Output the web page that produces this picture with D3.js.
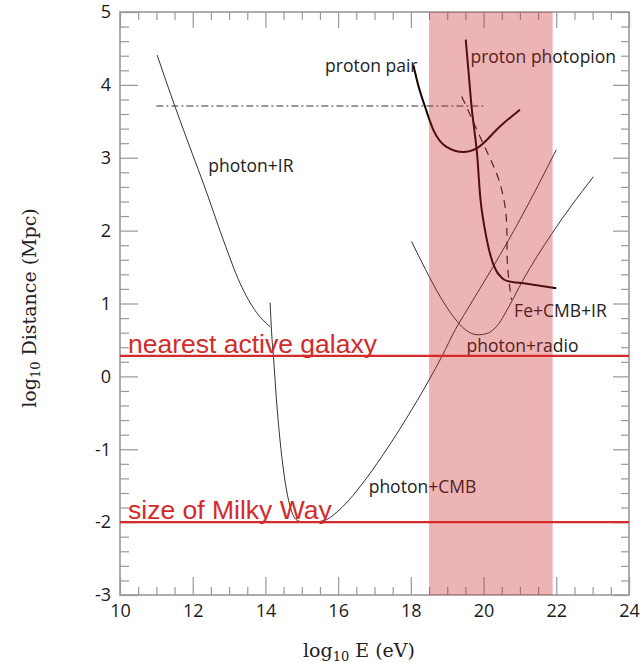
<!DOCTYPE html>
<html>
<head>
<meta charset="utf-8">
<script src="https://cdn.jsdelivr.net/npm/d3@7/dist/d3.min.js"></script>
<style>
  body { margin: 0; background: #fff; }
  .tick text { font-family: "Open Sans", sans-serif; font-size: 18px; fill: #1a1a1a; }
  .tick line, .domain { stroke: #999; }
</style>
</head>
<body>
<svg id="chart" width="644" height="663"></svg>
<script>
// axis ticks
var xMajor = [10, 12, 14, 16, 18, 20, 22, 24];
var yMajor = [-3, -2, -1, 0, 1, 2, 3, 4, 5];

// shaded energy band (log10 eV)
var bandRange = [18.5, 21.9];

// reference distances (log10 Mpc)
var refLines = [
  { name: "nearest active galaxy", d: 0.28 },
  { name: "size of Milky Way", d: -2 }
];

// loss-distance curves, [log10 E, log10 D]
var photonIR = [[11.02, 4.41], [11.5, 3.72], [12.0, 3.04], [12.3, 2.64], [12.85, 1.86],
  [13.3, 1.28], [13.75, 0.88], [14.13, 0.68]];
var photonCMB = [[14.13, 1.01], [14.17, 0.6], [14.22, 0.28], [14.3, -0.3], [14.4, -0.87],
  [14.5, -1.3], [14.58, -1.56], [14.7, -1.82], [14.8, -1.94], [14.95, -1.99], [15.3, -2.0],
  [15.6, -1.98], [16.1, -1.8], [16.7, -1.45], [17.2, -1.1], [17.85, -0.6], [18.5, -0.05],
  [18.86, 0.28], [19.22, 0.64], [19.53, 0.9], [20.27, 1.51], [21.0, 2.15], [22.0, 3.11]];
var photonRadio = [[18.02, 1.85], [18.4, 1.47], [18.8, 1.1], [19.2, 0.8], [19.5, 0.64],
  [19.85, 0.57], [20.1, 0.59], [20.35, 0.68], [20.7, 0.96], [21.06, 1.3], [21.88, 1.96],
  [23.02, 2.74]];
var protonPair = [[18.07, 4.27], [18.2, 4.0], [18.39, 3.7], [18.62, 3.38], [18.98, 3.15],
  [19.44, 3.08], [19.81, 3.13], [20.45, 3.43], [21.0, 3.66]];
var protonPhotopion = [[19.51, 4.62], [19.6, 4.1], [19.67, 3.7], [19.81, 3.11], [19.95, 2.28],
  [20.06, 1.95], [20.18, 1.68], [20.3, 1.5], [20.45, 1.38], [20.64, 1.31], [21.19, 1.27],
  [22.0, 1.21]];
var ironCMBIR = [[19.4, 3.84], [19.9, 3.29], [20.45, 2.65], [20.6, 2.3], [20.64, 2.0],
  [20.65, 1.6], [20.69, 1.35], [20.77, 1.05]];
var horizonLine = [[11.0, 3.71], [20.03, 3.71]];

// curve labels, anchored at [log10 E, log10 D] (start, baseline)
var curveLabels = [
  { text: "proton pair", at: [15.64, 4.18] },
  { text: "proton photopion", at: [19.64, 4.3] },
  { text: "photon+IR", at: [12.43, 2.81] },
  { text: "Fe+CMB+IR", at: [20.84, 0.82] },
  { text: "photon+radio", at: [19.53, 0.34] },
  { text: "photon+CMB", at: [16.84, -1.6] }
];

var svg = d3.select("#chart");
var x = d3.scaleLinear().domain([10, 24]).range([120, 629]);
var y = d3.scaleLinear().domain([-3, 5]).range([595, 12]);

var xMinor = d3.range(10, 24.01, 0.5).filter(function (v) { return v % 2 !== 0; });
var yMinor = d3.range(-3, 5.01, 0.2).map(function (v) { return Math.round(v * 10) / 10; })
  .filter(function (v) { return Math.abs(v - Math.round(v)) > 0.01; });

function addAxis(axis, transform, labels) {
  var g = svg.append("g").attr("transform", transform).call(axis);
  g.selectAll(".domain").remove();
  if (!labels) g.selectAll("text").remove();
  return g;
}

var plainNum = function (d) { return String(d); };

// bottom / top
addAxis(d3.axisBottom(x).tickValues(xMajor).tickSize(-18).tickPadding(9).tickFormat(plainNum),
  "translate(0,595)", true);
addAxis(d3.axisBottom(x).tickValues(xMinor).tickSize(-8), "translate(0,595)", false);
addAxis(d3.axisTop(x).tickValues(xMajor).tickSize(-16), "translate(0,12)", false);
addAxis(d3.axisTop(x).tickValues(xMinor).tickSize(-8), "translate(0,12)", false);
// left / right
addAxis(d3.axisLeft(y).tickValues(yMajor).tickSize(-18).tickPadding(9).tickFormat(plainNum),
  "translate(120,0)", true);
addAxis(d3.axisLeft(y).tickValues(yMinor).tickSize(-9), "translate(120,0)", false);
addAxis(d3.axisRight(y).tickValues(yMajor).tickSize(-16), "translate(629,0)", false);
addAxis(d3.axisRight(y).tickValues(yMinor).tickSize(-8), "translate(629,0)", false);

svg.selectAll(".tick line").attr("stroke", "#999").attr("stroke-width", 1.2);

svg.append("rect")
  .attr("x", x(10)).attr("y", y(5))
  .attr("width", x(24) - x(10)).attr("height", y(-3) - y(5))
  .attr("fill", "none").attr("stroke", "#999").attr("stroke-width", 1.6);

function lineOf(curve) {
  return d3.line()
    .x(function (d) { return x(d[0]); })
    .y(function (d) { return y(d[1]); })
    .curve(curve);
}
var lineX = lineOf(d3.curveMonotoneX);
var lineY = lineOf(d3.curveMonotoneY);

function drawCurve(data, gen, color, width, dash) {
  svg.append("path")
    .datum(data)
    .attr("d", gen)
    .attr("fill", "none")
    .attr("stroke", color)
    .attr("stroke-width", width)
    .attr("stroke-dasharray", dash || null);
}

drawCurve(horizonLine, lineX, "#777", 1.3, "7,3,2,3");
drawCurve(photonIR, lineX, "#333", 1);
drawCurve(photonCMB, lineX, "#333", 1);
drawCurve(photonRadio, lineX, "#333", 1);
drawCurve(ironCMBIR, lineY, "#222", 1.2, "8,6");
drawCurve(protonPair, lineX, "#1a0505", 2);
drawCurve(protonPhotopion, lineY, "#1a0505", 2);

svg.selectAll(".curve-label")
  .data(curveLabels)
  .enter().append("text")
  .attr("class", "curve-label")
  .attr("x", function (d) { return x(d.at[0]); })
  .attr("y", function (d) { return y(d.at[1]); })
  .attr("font-family", "Open Sans, sans-serif")
  .attr("font-size", 17.5)
  .attr("fill", "#222")
  .text(function (d) { return d.text; });

// band overlay
svg.append("rect")
  .attr("x", x(bandRange[0])).attr("y", y(5))
  .attr("width", x(bandRange[1]) - x(bandRange[0]))
  .attr("height", y(-3) - y(5))
  .attr("fill", "rgb(198,30,30)")
  .attr("fill-opacity", 0.333);

// reference lines
svg.selectAll(".ref-line")
  .data(refLines)
  .enter().append("line")
  .attr("class", "ref-line")
  .attr("x1", x(10)).attr("x2", x(24))
  .attr("y1", function (d) { return y(d.d); })
  .attr("y2", function (d) { return y(d.d); })
  .attr("stroke", "#d42a2a")
  .attr("stroke-width", 2.2);

svg.selectAll(".ref-label")
  .data(refLines)
  .enter().append("text")
  .attr("class", "ref-label")
  .attr("x", x(10) + 8)
  .attr("y", function (d) { return y(d.d) - 3; })
  .attr("font-family", "Liberation Sans, Arial, sans-serif")
  .attr("font-size", 26.5)
  .attr("fill", "#d42a2a")
  .text(function (d) { return d.name; });

// axis titles
var xt = svg.append("text")
  .attr("x", 359).attr("y", 657)
  .attr("text-anchor", "middle")
  .attr("font-family", "DejaVu Serif, serif")
  .attr("font-size", 19)
  .attr("fill", "#222");
xt.append("tspan").text("log");
xt.append("tspan").attr("font-size", 13).attr("dy", 4).text("10");
xt.append("tspan").attr("dy", -4).text("\u00a0E\u00a0(eV)");

var yt = svg.append("text")
  .attr("transform", "translate(36,308) rotate(-90)")
  .attr("text-anchor", "middle")
  .attr("font-family", "DejaVu Serif, serif")
  .attr("font-size", 19)
  .attr("fill", "#222");
yt.append("tspan").text("log");
yt.append("tspan").attr("font-size", 13).attr("dy", 4).text("10");
yt.append("tspan").attr("dy", -4).text("\u00a0Distance\u00a0(Mpc)");
</script>
</body>
</html>
